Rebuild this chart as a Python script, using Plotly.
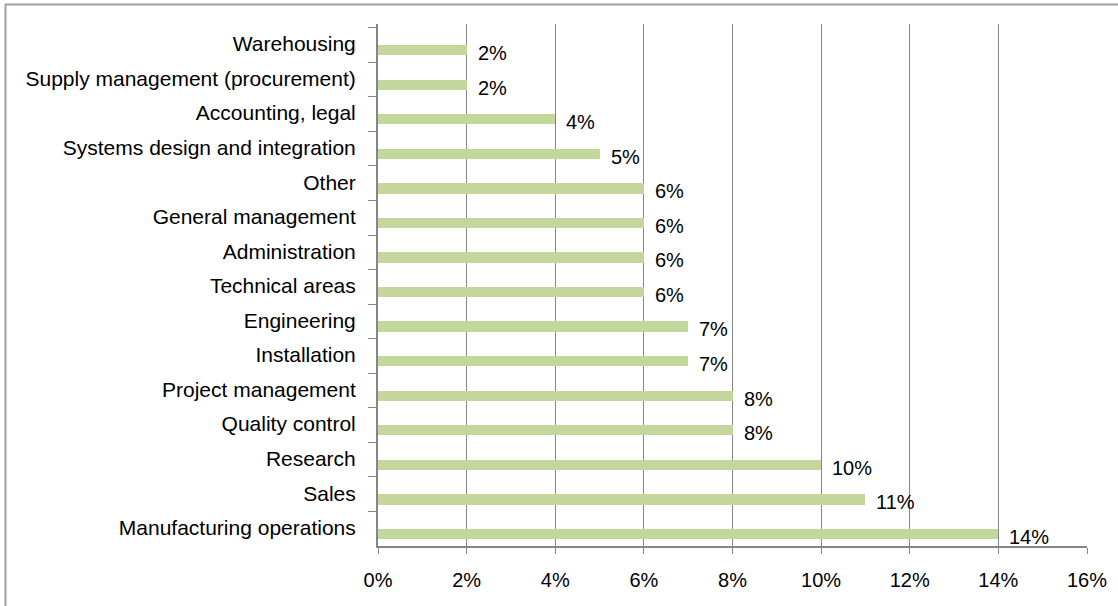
import plotly.graph_objects as go

# Share of respondents by functional area
categories = [
    "Warehousing",
    "Supply management (procurement)",
    "Accounting, legal",
    "Systems design and integration",
    "Other",
    "General management",
    "Administration",
    "Technical areas",
    "Engineering",
    "Installation",
    "Project management",
    "Quality control",
    "Research",
    "Sales",
    "Manufacturing operations",
]
shares = [0.02, 0.02, 0.04, 0.05, 0.06, 0.06, 0.06, 0.06, 0.07, 0.07, 0.08, 0.08, 0.10, 0.11, 0.14]
x_ticks = [0, 0.02, 0.04, 0.06, 0.08, 0.10, 0.12, 0.14, 0.16]
x_tick_labels = ["0%", "2%", "4%", "6%", "8%", "10%", "12%", "14%", "16%"]

FONT = "Liberation Sans, Arial, sans-serif"
GREY = "#868686"

fig = go.Figure()
fig.add_trace(go.Bar(
    x=shares,
    y=categories,
    orientation="h",
    width=0.3,
    offset=0,
    marker=dict(color="#c3d69b", line=dict(width=0)),
    hoverinfo="skip",
))

# value labels to the right of each bar
for cat, val in zip(categories, shares):
    fig.add_annotation(
        x=val, y=cat, xref="x", yref="y",
        text=f"{round(val * 100)}%",
        showarrow=False, xanchor="left", yanchor="middle",
        xshift=9, yshift=-8,
        font=dict(family=FONT, size=20, color="black"),
    )

# outer chart border
fig.add_shape(
    type="rect", xref="paper", yref="paper",
    x0=-0.5254, x1=1.06, y0=-0.14, y1=1.0374,
    line=dict(color="#a0a0a0", width=2), fillcolor="rgba(0,0,0,0)",
    layer="below",
)

fig.update_layout(
    width=1118, height=606,
    margin=dict(l=378, r=31, t=24, b=60),
    paper_bgcolor="white", plot_bgcolor="white",
    showlegend=False,
    bargap=0,
    font=dict(family=FONT, size=20, color="black"),
    xaxis=dict(
        range=[0, 0.16],
        tickvals=x_ticks, ticktext=x_tick_labels,
        showgrid=True, gridcolor=GREY, gridwidth=1,
        zeroline=False,
        showline=True, linecolor=GREY, linewidth=2,
        ticks="outside", ticklen=6, tickcolor=GREY, tickwidth=1,
        ticklabelstandoff=9,
        tickfont=dict(family=FONT, size=20, color="black"),
        fixedrange=True,
    ),
    yaxis=dict(
        type="category",
        autorange="reversed",
        showgrid=False,
        showline=True, linecolor=GREY, linewidth=2,
        ticks="outside", tickson="boundaries", ticklen=8, tickcolor=GREY, tickwidth=1,
        ticklabelstandoff=16,
        ticklabelshift=1,
        tickfont=dict(family=FONT, size=21, color="black"),
        fixedrange=True,
    ),
)

fig.write_html("out.html")
